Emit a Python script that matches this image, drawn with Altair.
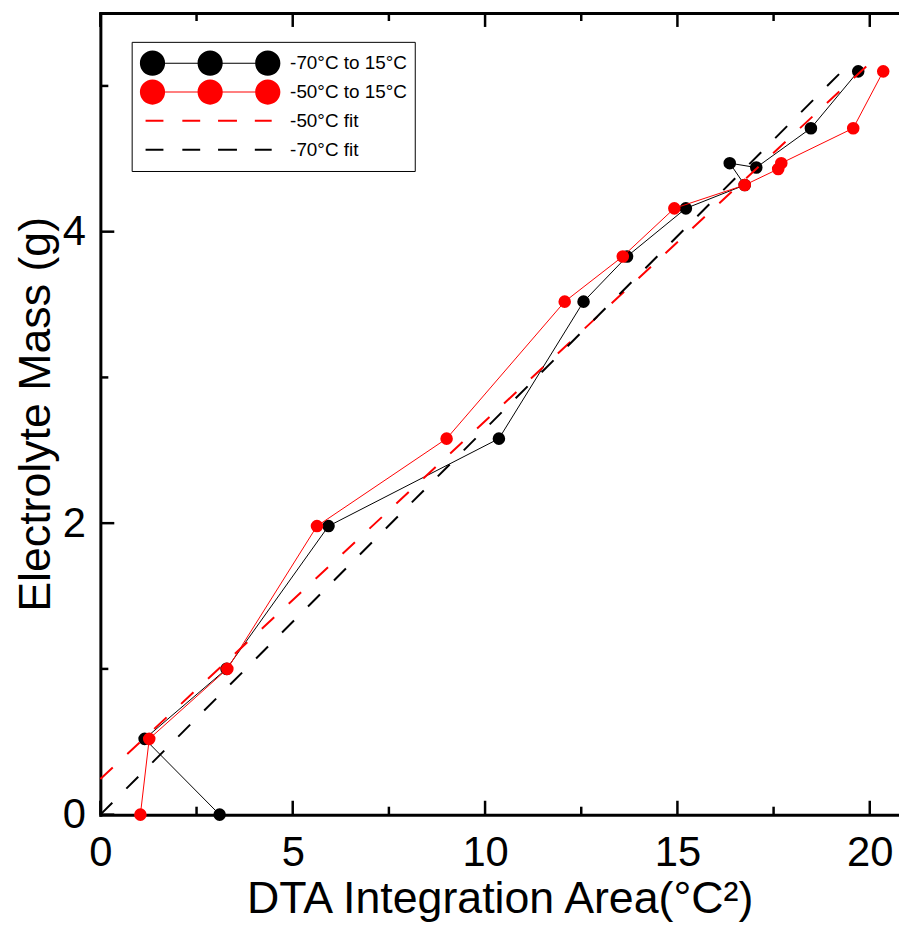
import altair as alt
import pandas as pd

FONT = "Liberation Sans"
W, H = 804, 807

# ---- data ----
series_names = ["-70°C to 15°C", "-50°C to 15°C", "-50°C fit", "-70°C fit"]
series_colors = ["#000000", "#ff0000", "#ff0000", "#000000"]

black_x = [3.10, 1.15, 3.28, 5.93, 10.36, 12.56, 13.69, 15.22, 16.75, 16.36, 17.05, 18.47, 19.70]
black_y = [0.00, 0.52, 1.00, 1.98, 2.58, 3.52, 3.83, 4.16, 4.32, 4.47, 4.44, 4.71, 5.10]

red_x = [1.04, 1.27, 3.30, 5.63, 9.00, 12.07, 13.58, 14.92, 16.75, 17.62, 17.70, 19.57, 20.35]
red_y = [0.00, 0.52, 1.00, 1.98, 2.58, 3.52, 3.83, 4.16, 4.32, 4.43, 4.47, 4.71, 5.10]

fit_red_x = [0.0, 20.1]
fit_red_y = [0.245, 5.18]
fit_black_x = [0.0, 19.5]
fit_black_y = [0.0, 5.16]

x_ticks = [0, 2.5, 5, 7.5, 10, 12.5, 15, 17.5, 20]
y_ticks = [0, 1, 2, 3, 4, 5]
x_labels = [0, 5, 10, 15, 20]
y_labels = [0, 2, 4]

rows = []
for name, xs_, ys_ in zip(series_names,
                          [black_x, red_x, fit_red_x, fit_black_x],
                          [black_y, red_y, fit_red_y, fit_black_y]):
    for i, (xv, yv) in enumerate(zip(xs_, ys_)):
        rows.append({"series": name, "x": xv, "y": yv, "order": i})
df = pd.DataFrame(rows)
xtick_df = pd.DataFrame({"v": x_ticks})
ytick_df = pd.DataFrame({"v": y_ticks})

# ---- legend symbols (custom paths, unit box) ----
def f(v):
    return f"{v:.4f}"

def circle_path(cx, r):
    k = 0.5523 * r
    return (f"M{f(cx + r)},0 C{f(cx + r)},{f(k)} {f(cx + k)},{f(r)} {f(cx)},{f(r)} "
            f"C{f(cx - k)},{f(r)} {f(cx - r)},{f(k)} {f(cx - r)},0 "
            f"C{f(cx - r)},{f(-k)} {f(cx - k)},{f(-r)} {f(cx)},{f(-r)} "
            f"C{f(cx + k)},{f(-r)} {f(cx + r)},{f(-k)} {f(cx + r)},0 Z")

def bar_path(x0, x1, h):
    return f"M{f(x0)},{f(-h)} L{f(x1)},{f(-h)} L{f(x1)},{f(h)} L{f(x0)},{f(h)} Z"

R = 0.18
C = 0.823
LH = 0.5 / 70.5   # half line thickness (1px)
DH = 1.0 / 70.5   # half dash thickness (2px)
circ_path = " ".join([
    circle_path(-C, R), circle_path(0.0, R), circle_path(C, R),
    bar_path(-C + R - 0.01, -R + 0.01, LH), bar_path(R - 0.01, C - R + 0.01, LH),
])
dash_path = " ".join([
    bar_path(-0.922, -0.667, DH), bar_path(-0.397, -0.142, DH),
    bar_path(0.113, 0.383, DH), bar_path(0.638, 0.879, DH),
])
shape_range = [circ_path, circ_path, dash_path, dash_path]

legend = alt.Legend(
    title=None, orient="none", legendX=31.5, legendY=29, direction="vertical",
    symbolSize=19881, symbolStrokeWidth=0, clipHeight=29, rowPadding=0,
    labelFont=FONT, labelFontSize=19, labelColor="black", labelOffset=10,
    labelExpr="datum.label + '  '",
    symbolOffset=1.5, padding=7, strokeColor="black", fillColor="white", labelLimit=0,
    symbolOpacity=1,
)

xscale = alt.Scale(domain=[0, 20.76], nice=False, zero=False)
yscale = alt.Scale(domain=[0, 5.5], nice=False, zero=False)

common_axis = dict(
    labelFont=FONT, labelFontSize=42, labelColor="black",
    titleFont=FONT, titleFontSize=45, titleFontWeight="normal", titleColor="black",
    domainColor="black", domainWidth=3, domainCap="square",
    ticks=False, grid=False, labelFlush=False, labelOverlap=False,
)

x_bottom = alt.X("x:Q", scale=xscale, title="DTA Integration Area(°C²)",
                 axis=alt.Axis(orient="bottom", values=x_labels,
                               labelPadding=18, titlePadding=4, **common_axis))
x_top = alt.X("x:Q", scale=xscale, title="",
              axis=alt.Axis(orient="top", values=x_labels, labels=False, **common_axis))
y_left = alt.Y("y:Q", scale=yscale, title="Electrolyte Mass (g)",
               axis=alt.Axis(orient="left", values=y_labels,
                             labelPadding=15, titlePadding=3.5, **common_axis))
x_plain = alt.X("x:Q", scale=xscale, axis=None)
y_plain = alt.Y("y:Q", scale=yscale, axis=None)

base = alt.Chart(df)

def only(name):
    return alt.datum.series == name

black_line = base.transform_filter(only(series_names[0])).mark_line(
    strokeWidth=1, color="#000000").encode(x=x_bottom, y=y_left, order="order:Q")
black_pts = base.transform_filter(only(series_names[0])).mark_circle(
    size=160, opacity=1, color="#000000").encode(x=x_top, y=y_plain)
red_line = base.transform_filter(only(series_names[1])).mark_line(
    strokeWidth=1, color="#ff0000").encode(x=x_plain, y=y_plain, order="order:Q")
red_pts = base.transform_filter(only(series_names[1])).mark_circle(
    size=160, opacity=1, color="#ff0000").encode(x=x_plain, y=y_plain)
fit_red = base.transform_filter(only(series_names[2])).mark_line(
    strokeWidth=2, strokeDash=[17, 20], color="#ff0000").encode(x=x_plain, y=y_plain, order="order:Q")
fit_black = base.transform_filter(only(series_names[3])).mark_line(
    strokeWidth=2, strokeDash=[17, 20], color="#000000").encode(x=x_plain, y=y_plain, order="order:Q")

legend_layer = base.transform_filter("false").mark_point(filled=True, opacity=1).encode(
    x=x_plain, y=y_plain,
    color=alt.Color("series:N", scale=alt.Scale(domain=series_names, range=series_colors), legend=legend),
    shape=alt.Shape("series:N", scale=alt.Scale(domain=series_names, range=shape_range), legend=legend),
)

# inward tick marks at the tick values (positions through the scales)
xt = alt.Chart(xtick_df)
yt = alt.Chart(ytick_df)
xv = alt.X("v:Q", scale=xscale, axis=None)
yv = alt.Y("v:Q", scale=yscale, axis=None)
tick_style = dict(color="black", strokeWidth=2.5)
x_major = "datum.v % 5 === 0"
x_minor = "datum.v % 5 !== 0"
y_major = "datum.v % 2 === 0"
y_minor = "datum.v % 2 !== 0"

bt_major = xt.transform_filter(x_major).mark_rule(**tick_style).encode(x=xv, y=alt.value(H), y2=alt.value(H - 14))
bt_minor = xt.transform_filter(x_minor).mark_rule(**tick_style).encode(x=xv, y=alt.value(H), y2=alt.value(H - 8))
tt_major = xt.transform_filter(x_major).mark_rule(**tick_style).encode(x=xv, y=alt.value(0), y2=alt.value(14))
tt_minor = xt.transform_filter(x_minor).mark_rule(**tick_style).encode(x=xv, y=alt.value(0), y2=alt.value(8))
lt_major = yt.transform_filter(y_major).mark_rule(**tick_style).encode(y=yv, x=alt.value(0), x2=alt.value(14))
lt_minor = yt.transform_filter(y_minor).mark_rule(**tick_style).encode(y=yv, x=alt.value(0), x2=alt.value(8))

chart = alt.layer(
    black_line, black_pts, red_line, red_pts, fit_red, fit_black, legend_layer,
    bt_major, bt_minor, tt_major, tt_minor, lt_major, lt_minor,
).resolve_axis(
    x="independent", y="independent"
).properties(
    width=W, height=H,
    padding={"left": 6, "top": 0, "right": 0, "bottom": 0},
    background="white",
).configure_view(strokeWidth=0)

chart.save("out.html", embed_options={"renderer": "svg", "actions": False})
